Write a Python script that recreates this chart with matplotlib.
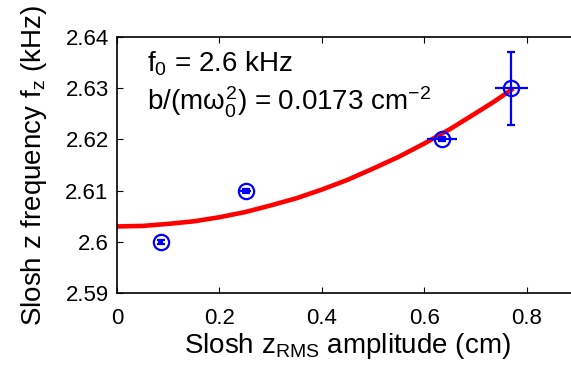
import matplotlib
matplotlib.use("Agg")
import matplotlib.pyplot as plt

plt.rcParams['font.family'] = ['Liberation Sans', 'DejaVu Sans']
plt.rcParams['mathtext.fontset'] = 'custom'
plt.rcParams['mathtext.rm'] = 'Liberation Sans'
plt.rcParams['mathtext.it'] = 'Liberation Sans'
plt.rcParams['mathtext.sf'] = 'Liberation Sans'

# data points
amp = [0.085, 0.251, 0.634, 0.770]
freq = [2.600, 2.610, 2.620, 2.630]
amp_err = [0.004, 0.010, 0.029, 0.033]
freq_err = [0.0004, 0.0004, 0.0004, 0.0071]

# fit curve
fit_x = [0.0, 0.05, 0.1, 0.15, 0.2, 0.25, 0.3, 0.35, 0.4, 0.45, 0.5,
         0.55, 0.6, 0.65, 0.7, 0.735, 0.77]
fit_y = [2.6030, 2.6031, 2.6035, 2.6040, 2.6048, 2.6058, 2.6071, 2.6085,
         2.6102, 2.6121, 2.6143, 2.6166, 2.6192, 2.6220, 2.6251, 2.6273, 2.6297]

xticks = [0, 0.2, 0.4, 0.6, 0.8]
xticklabels = ['0', '0.2', '0.4', '0.6', '0.8']
yticks = [2.59, 2.60, 2.61, 2.62, 2.63, 2.64]
yticklabels = ['2.59', '2.6', '2.61', '2.62', '2.63', '2.64']

fig = plt.figure(figsize=(5.71, 3.71), dpi=100)
ax = fig.add_axes([117/571, 1-293/371, (578-117)/571, (293-37)/371])

ax.plot(fit_x, fit_y, color='red', lw=3.3, zorder=2, solid_joinstyle='round')
# horizontal error bars (no caps)
ax.errorbar(amp, freq, xerr=amp_err, fmt='none', ecolor='blue',
            elinewidth=1.6, capsize=0, zorder=3)
# vertical error bars (with caps) and markers
ax.errorbar(amp, freq, yerr=freq_err, fmt='o', mfc='none',
            mec='blue', ms=11, mew=1.6, ecolor='blue', elinewidth=1.6,
            capsize=3, capthick=1.6, zorder=3)

ax.set_xlim(0, 0.9)
ax.set_ylim(2.59, 2.64)
ax.set_xticks(xticks)
ax.set_xticklabels(xticklabels)
ax.set_yticks(yticks)
ax.set_yticklabels(yticklabels)
ax.tick_params(direction='in', length=4, width=0.8, top=True, right=False,
               labelsize=16)
ax.tick_params(axis='x', pad=11)
ax.tick_params(axis='y', pad=6)
ax.spines['right'].set_visible(False)
for s in ax.spines.values():
    s.set_linewidth(1.2)

ax.set_xlabel('Slosh z$_{\\mathrm{RMS}}$ amplitude (cm)', fontsize=20, labelpad=1)
ax.set_ylabel('Slosh z frequency f$_{\\mathrm{z}}$ (kHz)', fontsize=20, labelpad=12)

ax.text(0.0585, 2.6332, 'f$_{\\mathrm{0}}$ = 2.6 kHz', fontsize=20, va='baseline')
ax.text(0.0585, 2.6257, 'b/(m$\\omega_{\\mathrm{0}}^{\\mathrm{2}}$) = 0.0173 cm$^{\\mathrm{-2}}$',
        fontsize=20, va='baseline')

fig.savefig('out.png', dpi=100)
